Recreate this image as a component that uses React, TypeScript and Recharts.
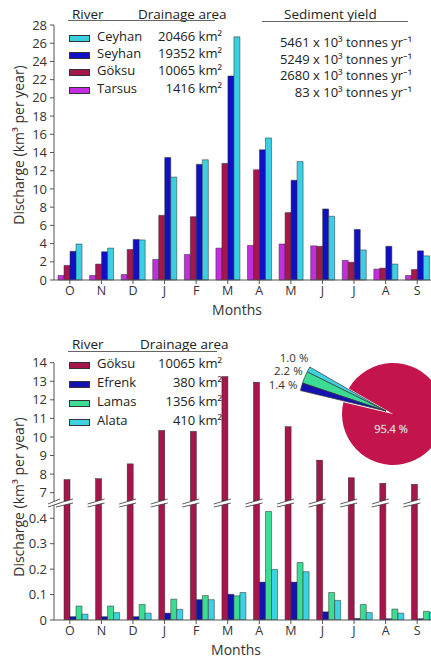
import React from 'react';
import { BarChart, Bar, XAxis, YAxis, PieChart, Pie, Cell, Label } from 'recharts';

// month keys, shown by first letter on the axis
const monthNames = ['Oct', 'Nov', 'Dec', 'Jan', 'Feb', 'Mar', 'Apr', 'May', 'Jun', 'Jul', 'Aug', 'Sep'];

// top panel, discharge km3 per year
const tarsus = [0.5, 0.5, 0.6, 2.25, 2.8, 3.5, 3.8, 3.95, 3.75, 2.15, 1.2, 0.5];
const goksuMain = [1.6, 1.75, 3.35, 7.1, 6.95, 12.8, 12.1, 7.4, 3.7, 1.95, 1.3, 1.15];
const seyhan = [3.15, 3.1, 4.45, 13.45, 12.7, 22.4, 14.3, 10.95, 7.8, 5.55, 3.7, 3.2];
const ceyhan = [3.95, 3.5, 4.4, 11.3, 13.2, 26.7, 15.6, 13.0, 7.0, 3.3, 1.75, 2.65];

// bottom panel, Göksu and tributaries
const goksu = [7.7, 7.75, 8.55, 10.35, 10.3, 13.25, 12.95, 10.55, 8.75, 7.8, 7.5, 7.45];
const efrenk = [0.013, 0.013, 0.013, 0.027, 0.08, 0.101, 0.149, 0.149, 0.032, 0.006, 0.005, 0.005];
const lamas = [0.055, 0.055, 0.061, 0.082, 0.096, 0.095, 0.427, 0.226, 0.108, 0.061, 0.043, 0.034];
const alata = [0.023, 0.029, 0.027, 0.042, 0.08, 0.108, 0.199, 0.19, 0.077, 0.029, 0.027, 0.03];

const topTicks = [0, 2, 4, 6, 8, 10, 12, 14, 16, 18, 20, 22, 24, 26, 28];
const breakAt = 6.55;
const hiTicks = [breakAt, 7, 8, 9, 10, 11, 12, 13, 14];
const loTicks = [0, 0.1, 0.2, 0.3, 0.4];
const loTop = 0.46;

const mainRivers = ['Ceyhan', 'Seyhan', 'Göksu', 'Tarsus'];
const mainAreas = ['20466', '19352', '10065', '1416'];
const mainYields = ['5461', '5249', '2680', '83'];
const mainColors = ['#3ccfe4', '#1010c4', '#a3174c', '#c42ee0'];

const tribRivers = ['Göksu', 'Efrenk', 'Lamas', 'Alata'];
const tribAreas = ['10065', '380', '1356', '410'];
const tribColors = ['#a3174c', '#1313b0', '#3ddc94', '#3fd0e2'];

const pieNames = ['Alata', 'Lamas', 'Efrenk', 'Göksu'];
const pieShares = [1.0, 2.2, 1.4, 95.4];
const pieColors = ['#3fd0e2', '#3ddc94', '#1313b0', '#c3154b'];

const FONT = '"Open Sans", "Noto Sans", sans-serif';
const AXIS = '#555';
const INK = '#333';
const EDGE = '#2a2a2a';

const topData = monthNames.map((m, i) => ({ m, tarsus: tarsus[i], goksu: goksuMain[i], seyhan: seyhan[i], ceyhan: ceyhan[i] }));
const loData = monthNames.map((m, i) => ({ m, goksu: goksu[i], efrenk: efrenk[i], lamas: lamas[i], alata: alata[i] }));
const hiData = monthNames.map((m, i) => ({ m, goksu: goksu[i] }));
const pieData = pieNames.map((name, i) => ({ name, value: pieShares[i] }));

const yTitle = (dy: number) => (props: any) => {
  const vb = props.viewBox;
  const cy = vb.y + vb.height / 2 + dy;
  return (
    <text x={18} y={cy} transform={`rotate(-90, 18, ${cy})`} textAnchor="middle" dominantBaseline="central"
      fontSize={14} fill={INK}>Discharge (km³ per year)</text>
  );
};

const xTitle = (dx: number, dy: number) => (props: any) => {
  const vb = props.viewBox;
  return (
    <text x={vb.x + vb.width / 2 + dx} y={vb.y + dy} textAnchor="middle" dominantBaseline="central"
      fontSize={14} fill={INK}>Months</text>
  );
};

const breakMark = (x0: number, x1: number, y: number) => (
  <g>
    <polygon points={`${x0},${y + 3} ${x1},${y - 2} ${x1},${y + 2} ${x0},${y + 6}`} fill="#fff" />
    <line x1={x0} y1={y + 3} x2={x1} y2={y - 2} stroke="#333" strokeWidth={0.8} />
    <line x1={x0} y1={y + 6} x2={x1} y2={y + 2} stroke="#333" strokeWidth={0.8} />
  </g>
);

const HiTick = (props: any) => {
  const { x, y, payload } = props;
  const ax = x + 7;
  if (payload.value === breakAt) return breakMark(ax - 6, ax + 6, y);
  return (
    <g>
      <line x1={ax - 4} x2={ax} y1={y} y2={y} stroke={AXIS} />
      <text x={x} y={y} dy="0.355em" textAnchor="end" fontSize={13} fill={INK}>{payload.value}</text>
    </g>
  );
};

const HiGoksu = (props: any) => {
  const { x, y, width, height, fill } = props;
  if (!height) return null;
  return (
    <g>
      <rect x={x} y={y} width={width} height={height} fill={fill} stroke={EDGE} strokeWidth={0.5} />
      {breakMark(x - 8, x + width + 3, y + height)}
    </g>
  );
};

const RAD = Math.PI / 180;
const smallLabel = (p: any) => {
  const name = p.payload?.name ?? p.name;
  if (name === 'Göksu') return null;
  const tx = p.cx + p.outerRadius * Math.cos(-p.midAngle * RAD);
  const ty = p.cy + p.outerRadius * Math.sin(-p.midAngle * RAD);
  return (
    <text key={name} x={tx - 2 * p.index} y={ty - 12 + 5 * p.index} textAnchor="end" dominantBaseline="central"
      fontSize={11.5} fill={INK}>{Number(p.value).toFixed(1)} %</text>
  );
};
const bigLabel = (p: any) => {
  const name = p.payload?.name ?? p.name;
  if (name !== 'Göksu') return null;
  return (
    <text key={name} x={p.cx - 2} y={p.cy + p.outerRadius * 0.28} textAnchor="middle" dominantBaseline="central"
      fontSize={11} fill="#fff" stroke="#b0b0b0" strokeWidth={0.3}>{Number(p.value).toFixed(1)} %</text>
  );
};

const abs = (left: number, top: number): React.CSSProperties => ({ position: 'absolute', left, top });

const Txt = ({ x, y, right, size = 13, children }: any) => (
  <div style={{
    position: 'absolute', top: y - 9, height: 18, lineHeight: '18px', fontSize: size, color: '#222',
    whiteSpace: 'nowrap', ...(right ? { right: 431 - x } : { left: x }),
  }}>{children}</div>
);

const Rule = ({ x, y, w }: any) => (
  <div style={{ position: 'absolute', left: x, top: y, width: w, height: 1, background: '#666' }} />
);

const Swatch = ({ y, color }: any) => (
  <div style={{ position: 'absolute', left: 69, top: y - 1, width: 21, height: 7, background: color, border: '0.5px solid #333', boxSizing: 'border-box' }} />
);

const tickFmt = (v: string) => v[0];

export default function App() {
  const mainRows = [36, 53, 70, 87.5];
  const yieldRows = [42, 58.5, 75, 92];
  const tribRows = [363, 382, 401, 420];
  return (
    <div style={{ position: 'absolute', left: 0, top: 0, width: 431, height: 659, overflow: 'hidden', background: '#fff', fontFamily: FONT }}>
      {/* top panel */}
      <div style={abs(0, 0)}>
        <BarChart width={433} height={318} data={topData} margin={{ top: 25, right: 0, bottom: 0, left: 0 }} barGap={0}>
          <XAxis dataKey="m" interval={0} tickFormatter={tickFmt} height={38} stroke={AXIS} tickSize={4} tickMargin={2}
            tick={{ fill: INK, fontSize: 12.5 }}>
            <Label content={xTitle(-6.5, 29.5)} />
          </XAxis>
          <YAxis domain={[0, 28]} ticks={topTicks} interval={0} width={54} stroke={AXIS} tickSize={4} tickMargin={3}
            tick={{ fill: INK, fontSize: 13 }}>
            <Label content={yTitle(-7.5)} />
          </YAxis>
          <Bar dataKey="tarsus" fill={mainColors[3]} barSize={6} stroke={EDGE} strokeWidth={0.5} isAnimationActive={false} />
          <Bar dataKey="goksu" fill={mainColors[2]} barSize={6} stroke={EDGE} strokeWidth={0.5} isAnimationActive={false} />
          <Bar dataKey="seyhan" fill={mainColors[1]} barSize={6} stroke={EDGE} strokeWidth={0.5} isAnimationActive={false} />
          <Bar dataKey="ceyhan" fill={mainColors[0]} barSize={6} stroke={EDGE} strokeWidth={0.5} isAnimationActive={false} />
        </BarChart>
      </div>

      {/* top legend */}
      <Txt x={72} y={14} size={13.5}>River</Txt>
      <Txt x={138} y={14} size={13.5}>Drainage area</Txt>
      <Rule x={68} y={20} w={147} />
      <Txt x={284} y={14} size={13.5}>Sediment yield</Txt>
      <Rule x={262} y={21} w={146} />
      {mainRivers.map((r, i) => (
        <React.Fragment key={r}>
          <Swatch y={mainRows[i]} color={mainColors[i]} />
          <Txt x={97} y={mainRows[i]}>{r}</Txt>
          <Txt x={222} y={mainRows[i]} right>{mainAreas[i]} km²</Txt>
          <Txt x={412} y={yieldRows[i]} right>{mainYields[i]} x 10³ tonnes yr⁻¹</Txt>
        </React.Fragment>
      ))}

      {/* bottom panel, lower part */}
      <div style={abs(0, 330)}>
        <BarChart width={439} height={329} data={loData} margin={{ top: 173, right: 0, bottom: 0, left: 0 }} barGap={0}>
          <XAxis xAxisId="ticks" dataKey="m" interval={0} tickFormatter={tickFmt} height={39} stroke={AXIS} tickSize={4}
            tickMargin={2} padding={{ left: 0, right: 6 }} tick={{ fill: INK, fontSize: 12.5 }}>
            <Label content={xTitle(-10.5, 29)} />
          </XAxis>
          <XAxis xAxisId="bars" dataKey="m" hide height={0} padding={{ left: 6, right: 0 }} />
          <YAxis domain={[0, loTop]} ticks={loTicks} interval={0} allowDataOverflow width={54} stroke={AXIS} tickSize={4}
            tickMargin={3} tick={{ fill: INK, fontSize: 13 }} tickFormatter={(v: number) => (v === 0 ? '0' : String(v))}>
            <Label content={yTitle(-64.5)} />
          </YAxis>
          <Bar xAxisId="bars" dataKey="goksu" fill={tribColors[0]} barSize={6} stroke={EDGE} strokeWidth={0.5} isAnimationActive={false} />
          <Bar xAxisId="bars" dataKey="efrenk" fill={tribColors[1]} barSize={6} stroke={EDGE} strokeWidth={0.5} isAnimationActive={false} />
          <Bar xAxisId="bars" dataKey="lamas" fill={tribColors[2]} barSize={6} stroke={EDGE} strokeWidth={0.5} isAnimationActive={false} />
          <Bar xAxisId="bars" dataKey="alata" fill={tribColors[3]} barSize={6} stroke={EDGE} strokeWidth={0.5} isAnimationActive={false} />
        </BarChart>
      </div>

      {/* bottom panel, upper part above the break */}
      <div style={abs(0, 330)}>
        <BarChart width={439} height={180} data={hiData} margin={{ top: 32.7, right: 0, bottom: 9, left: 0 }} barGap={0}>
          <XAxis xAxisId="bars" dataKey="m" hide height={0} padding={{ left: 6, right: 0 }} />
          <YAxis domain={[breakAt, 14]} ticks={hiTicks} interval={0} width={54} stroke={AXIS} tickLine={false} tick={<HiTick />}
            tickSize={4} tickMargin={3} />
          <Bar xAxisId="bars" dataKey="goksu" fill={tribColors[0]} barSize={6} shape={<HiGoksu />} isAnimationActive={false} />
          <Bar xAxisId="bars" dataKey="efrenk" fill={tribColors[1]} barSize={6} isAnimationActive={false} />
          <Bar xAxisId="bars" dataKey="lamas" fill={tribColors[2]} barSize={6} isAnimationActive={false} />
          <Bar xAxisId="bars" dataKey="alata" fill={tribColors[3]} barSize={6} isAnimationActive={false} />
        </BarChart>
      </div>

      {/* share pie */}
      <div style={abs(240, 330)}>
        <PieChart width={200} height={150}>
          <Pie data={pieData} dataKey="value" nameKey="name" cx={148} cy={79} outerRadius={51} startAngle={150} endAngle={510}
            stroke="none" label={bigLabel} labelLine={false} isAnimationActive={false}>
            {pieData.map((d, i) => (
              <Cell key={d.name} fill={d.name === 'Göksu' ? pieColors[i] : 'none'} />
            ))}
          </Pie>
          <Pie data={pieData} dataKey="value" nameKey="name" cx={141} cy={76} outerRadius={88} startAngle={150} endAngle={510}
            label={smallLabel} labelLine={false} isAnimationActive={false}>
            {pieData.map((d, i) => (
              <Cell key={d.name} fill={d.name === 'Göksu' ? 'none' : pieColors[i]}
                stroke={d.name === 'Göksu' ? 'none' : '#333'} strokeWidth={0.7} />
            ))}
          </Pie>
        </PieChart>
      </div>

      {/* bottom legend */}
      <Txt x={72} y={344} size={13.5}>River</Txt>
      <Txt x={140} y={344} size={13.5}>Drainage area</Txt>
      <Rule x={68} y={351} w={149} />
      {tribRivers.map((r, i) => (
        <React.Fragment key={r}>
          <Swatch y={tribRows[i]} color={tribColors[i]} />
          <Txt x={97} y={tribRows[i]}>{r}</Txt>
          <Txt x={222} y={tribRows[i]} right>{tribAreas[i]} km²</Txt>
        </React.Fragment>
      ))}
    </div>
  );
}
